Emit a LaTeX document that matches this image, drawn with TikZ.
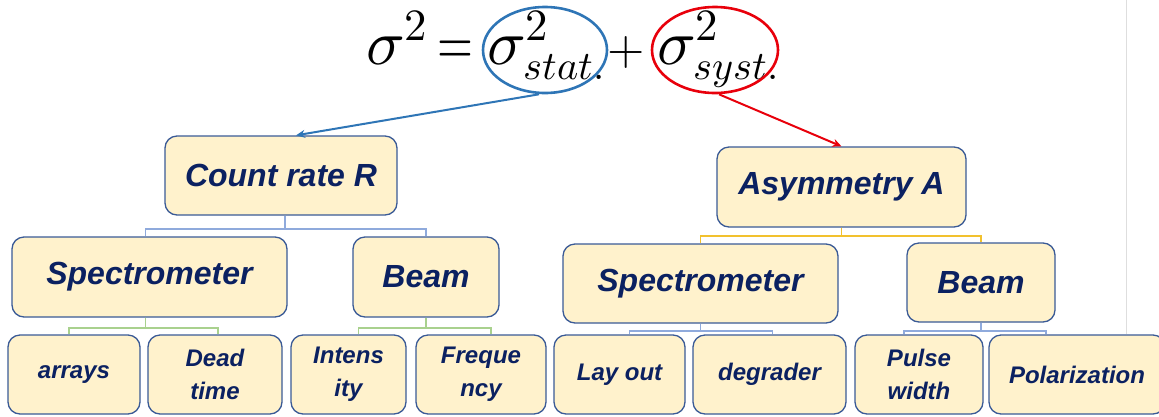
\documentclass[tikz,border=0pt]{standalone}
\usepackage{fontspec}
\usepackage{unicode-math}
\setmathfont{Latin Modern Math}
\newfontfamily\boxfont{Liberation Sans}
\usetikzlibrary{shapes.geometric,arrows.meta}
\definecolor{navy}{HTML}{0B2161}
\definecolor{boxfill}{HTML}{FFF2CC}
\definecolor{boxline}{HTML}{3A5A96}
\definecolor{conblue}{HTML}{8FAADC}
\definecolor{congreen}{HTML}{A9D18E}
\definecolor{conyellow}{HTML}{F2C12E}
\definecolor{ellblue}{HTML}{2E75B6}
\definecolor{ellred}{HTML}{E8000B}
\newcommand{\subtxt}[1]{\scalebox{0.9}{$\scriptstyle #1$}}
\begin{document}
\begin{tikzpicture}[x=1pt,y=-1pt,
  box/.style={draw=boxline, fill=boxfill, rounded corners=12pt, line width=1.3pt, text=navy, align=center, inner sep=0pt},
  big/.style={box, font=\boxfont\bfseries\itshape\fontsize{32}{36}\selectfont},
  leaf/.style={box, font=\boxfont\bfseries\itshape\fontsize{24}{33}\selectfont, minimum height=79},
  con/.style={line width=1.8pt},
  eqn/.style={font=\fontsize{64}{70}\selectfont, inner sep=0pt, anchor=base west},
  ell/.style={ellipse, line width=2.6pt, inner sep=0pt},
  arr/.style={line width=2pt, -{Stealth[length=9pt,width=8pt]}}
]
\useasboundingbox (0,0) rectangle (1159,416);
\draw[black!13, line width=1pt] (1126,0) -- (1126,334);

% equation
\node[eqn] (lhs) at (366,64) {$\sigma^2$};
\node[eqn, anchor=base] (eq) at (455,64) {\scalebox{0.72}[1]{$=$}};
\node[eqn] (stat) at (487,64) {$\sigma^2_{\subtxt{stat.}}$};
\node[eqn, anchor=base] (plus) at (626,64) {\scalebox{0.75}{$+$}};
\node[eqn] (syst) at (657,64) {$\sigma^2_{\subtxt{syst.}}$};
\node[ell, draw=ellblue, minimum width=124, minimum height=86] (E1) at (545,50) {};
\node[ell, draw=ellred, minimum width=126, minimum height=86] (E2) at (715,50) {};

% top level
\node[big, minimum width=232, minimum height=79] (CR) at (281,175.5) {Count rate R};
\node[big, minimum width=249, minimum height=80] (AA) at (841.5,187) {Asymmetry A};

\draw[arr, ellblue] ([xshift=-6pt]E1.south) -- ([xshift=15pt]CR.north);
\draw[arr, ellred] ([xshift=4pt]E2.south) -- (AA.north);

% second level
\node[big, minimum width=275, minimum height=80] (SL) at (149.5,277) {Spectrometer};
\node[big, minimum width=146, minimum height=80] (BL) at (426,277) {Beam};
\node[big, minimum width=275, minimum height=79] (SR) at (700.5,283.5) {Spectrometer};
\node[big, minimum width=148, minimum height=79] (BR) at (981,282.5) {Beam};

% leaves
\node[leaf, minimum width=132] (L1) at (74,374.5) {arrays};
\node[leaf, minimum width=134] (L2) at (215,374.5) {Dead\\time};
\node[leaf, minimum width=115] (L3) at (348.5,374.5) {Intens\\ity};
\node[leaf, minimum width=130] (L4) at (481,374.5) {Freque\\ncy};
\node[leaf, minimum width=131] (L5) at (619.5,374.5) {Lay out};
\node[leaf, minimum width=153] (L6) at (769.5,374.5) {degrader};
\node[leaf, minimum width=128] (L7) at (919,374.5) {Pulse\\width};
\node[leaf, minimum width=176] (L8) at (1077,374.5) {Polarization};

% connectors
\draw[con, conblue] ([xshift=4pt]CR.south) -- ++(0,13) -| ([xshift=-4pt]SL.north);
\draw[con, conblue] ([xshift=4pt]CR.south) -- ++(0,13) -| (BL.north);
\draw[con, congreen] ([xshift=-4pt]SL.south) -- ++(0,10) -| ([xshift=-5pt]L1.north);
\draw[con, congreen] ([xshift=-4pt]SL.south) -- ++(0,10) -| ([xshift=3pt]L2.north);
\draw[con, congreen] (BL.south) -- ++(0,10) -| ([xshift=10pt]L3.north);
\draw[con, congreen] (BL.south) -- ++(0,10) -| ([xshift=10pt]L4.north);
\draw[con, conyellow] (AA.south) -- ++(0,8) -| (SR.north);
\draw[con, conyellow] (AA.south) -- ++(0,8) -| (BR.north);
\draw[con, conblue] (SR.south) -- ++(0,7) -| ([xshift=10pt]L5.north);
\draw[con, conblue] (SR.south) -- ++(0,7) -| ([xshift=3pt]L6.north);
\draw[con, conblue] (BR.south) -- ++(0,8) -| ([xshift=-15pt]L7.north);
\draw[con, conblue] (BR.south) -- ++(0,8) -| ([xshift=-31pt]L8.north);
\end{tikzpicture}
\end{document}
